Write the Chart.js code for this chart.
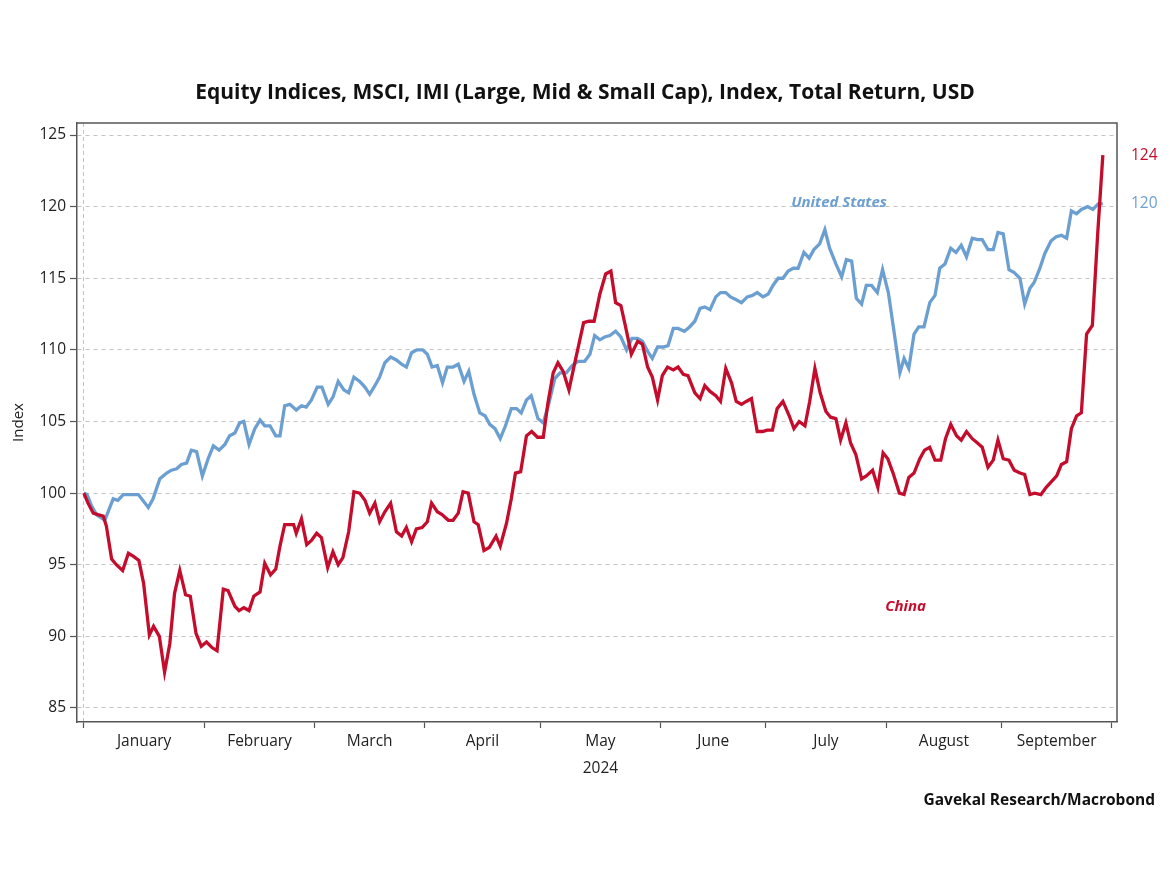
<!DOCTYPE html>
<html>
<head>
<meta charset="utf-8">
<title>Equity Indices, MSCI, IMI</title>
<script src="https://cdn.jsdelivr.net/npm/chart.js@4.4.1/dist/chart.umd.min.js"></script>
<style>
  html, body { margin: 0; padding: 0; background: #fff; }
  #wrap { width: 1170px; height: 870px; }
</style>
</head>
<body>
<div id="wrap"><canvas id="chart" width="1170" height="870"></canvas></div>
<script>
// Month names and number of trading days in each month of 2024 (x axis is in trading days)
const months = ["January", "February", "March", "April", "May", "June", "July", "August", "September"];
const tradingDaysPerMonth = [23, 21, 21, 22, 23, 20, 23, 22, 21];
const yearLabel = "2024";

// United States: trading day index since 1 Jan, index value (1 Jan = 100)
const usDays = [0,0.6,1.5,2.4,4.0,5.6,6.5,7.5,8.5,10.4,
  12.3,13.2,14.5,15.8,16.7,17.7,18.6,19.6,20.5,21.5,
  22.6,23.7,24.7,25.8,26.9,27.8,28.8,29.7,30.5,31.5,
  32.6,33.6,34.5,35.5,36.6,37.4,38.3,39.3,40.5,41.5,
  42.4,43.4,44.5,45.4,46.6,47.5,48.5,49.6,50.5,51.5,
  52.6,53.6,54.5,55.5,56.4,57.4,58.5,59.6,60.6,61.5,
  62.5,63.5,64.6,65.5,66.4,67.4,68.4,69.3,70.4,71.4,
  72.5,73.4,74.4,75.5,76.5,77.4,78.4,79.4,80.4,81.5,
  82.5,83.4,84.4,85.3,86.6,87.6,88.7,89.8,90.8,92.0,
  93.1,94.2,95.5,96.5,97.4,98.4,99.3,100.3,101.4,102.4,
  103.5,104.5,105.6,106.5,107.5,108.4,109.4,110.5,111.4,112.4,
  113.3,114.5,115.5,116.5,117.5,118.4,119.4,120.5,121.4,122.4,
  123.3,124.4,125.4,126.5,127.5,128.4,129.5,130.5,131.4,132.4,
  133.3,134.3,135.3,136.2,137.3,138.3,139.2,140.3,141.3,142.2,
  143.4,144.5,145.4,146.4,147.3,148.3,149.2,150.2,151.3,152.3,
  153.4,154.4,155.6,156.4,157.3,158.3,159.2,160.2,161.3,162.3,
  163.2,164.2,165.3,166.3,167.3,168.3,169.4,170.4,171.3,172.4,
  173.4,174.3,175.3,176.4,177.4,178.5,179.4,180.4,181.2,182.3,
  183.2,184.4,185.4,186.4,187.4,188.3,189.3,190.2,191.4,192.4,
  193.4,194.3];
const usValues = [100,99.9,99.1,98.5,98.1,99.6,99.5,99.9,99.9,99.9,
  99.0,99.6,101.0,101.4,101.6,101.7,102.0,102.1,103.0,102.9,
  101.2,102.4,103.3,103.0,103.4,104.0,104.2,104.9,105.0,103.4,
  104.5,105.1,104.7,104.7,104.0,104.0,106.1,106.2,105.8,106.1,
  106.0,106.5,107.4,107.4,106.2,106.7,107.8,107.2,107.0,108.1,
  107.8,107.4,106.9,107.5,108.1,109.1,109.5,109.3,109.0,108.8,
  109.8,110.0,110.0,109.7,108.8,108.9,107.7,108.8,108.8,109.0,
  107.8,108.5,106.9,105.6,105.4,104.8,104.5,103.8,104.7,105.9,
  105.9,105.6,106.5,106.8,105.2,104.9,106.3,108.0,108.4,108.4,
  108.9,109.2,109.2,109.7,111.0,110.7,110.9,111.0,111.3,110.9,
  110.0,110.8,110.8,110.6,109.9,109.4,110.2,110.2,110.3,111.5,
  111.5,111.3,111.6,112.0,112.9,113.0,112.8,113.7,114.0,114.0,
  113.7,113.5,113.3,113.7,113.8,114.0,113.7,113.9,114.5,115.0,
  115.0,115.5,115.7,115.7,116.8,116.4,117.0,117.4,118.4,117.1,
  116.0,115.1,116.3,116.2,113.6,113.2,114.5,114.5,114.0,115.6,
  114.0,111.5,108.4,109.4,108.7,111.1,111.6,111.6,113.3,113.8,
  115.7,116.0,117.1,116.8,117.3,116.5,117.8,117.7,117.7,117.0,
  117.0,118.2,118.1,115.6,115.4,115.0,113.2,114.3,114.7,115.7,
  116.7,117.6,117.9,118.0,117.8,119.7,119.5,119.8,120.0,119.8,
  120.2,120.2];

// China
const cnDays = [0,0.8,1.8,2.7,3.7,4.3,5.3,6.2,7.4,8.5,
  9.4,10.5,11.4,12.5,13.3,14.4,15.4,16.4,17.3,18.3,
  19.4,20.3,21.4,22.4,23.4,24.5,25.4,26.6,27.5,28.8,
  29.6,30.5,31.5,32.4,33.6,34.5,35.6,36.6,37.4,38.3,
  39.3,40.0,40.5,41.5,42.5,43.4,44.4,45.3,46.5,47.5,
  48.5,49.4,50.5,51.5,52.6,53.6,54.5,55.5,56.4,57.4,
  58.5,59.6,60.6,61.5,62.5,63.4,64.5,65.5,66.3,67.4,
  68.3,69.5,70.4,71.4,72.3,73.3,74.4,75.2,76.3,77.3,
  78.6,79.4,80.6,81.5,82.3,83.3,84.4,85.4,86.5,87.6,
  88.5,89.5,90.4,91.4,92.5,93.5,94.4,95.3,96.3,97.3,
  98.4,99.5,100.5,101.4,102.4,103.3,104.4,105.6,106.5,107.5,
  108.4,109.4,110.3,111.3,112.4,113.3,114.3,115.2,116.5,117.5,
  118.4,119.4,120.5,121.4,122.4,123.5,124.4,125.4,126.3,127.3,
  128.4,129.4,130.3,131.3,132.2,133.3,134.5,135.4,136.4,137.5,
  138.4,139.4,140.4,141.5,142.4,143.4,144.3,145.3,146.2,147.2,
  148.3,149.2,150.4,151.4,152.4,153.3,154.3,155.5,156.4,157.3,
  158.3,159.4,160.3,161.3,162.3,163.4,164.3,165.3,166.4,167.3,
  168.3,169.4,170.4,171.3,172.4,173.4,174.3,175.3,176.4,177.4,
  178.5,179.4,180.4,181.3,182.5,183.5,184.5,185.5,186.4,187.4,
  188.3,189.3,190.2,191.2,192.3,193.3,194.3];
const cnValues = [100,99.3,98.6,98.5,98.4,97.7,95.4,95.0,94.6,95.8,
  95.6,95.3,93.7,90.1,90.7,90.0,87.5,89.5,93.0,94.6,
  92.9,92.8,90.2,89.3,89.6,89.2,89.0,93.3,93.2,92.1,
  91.8,92.0,91.8,92.8,93.1,95.1,94.3,94.7,96.3,97.8,
  97.8,97.8,97.2,98.2,96.4,96.7,97.2,96.9,94.8,95.9,
  95.0,95.5,97.3,100.1,100.0,99.5,98.6,99.3,98.0,98.7,
  99.3,97.3,97.0,97.6,96.6,97.5,97.6,98.0,99.3,98.7,
  98.5,98.1,98.1,98.6,100.1,100.0,98.0,97.8,96.0,96.2,
  97.0,96.3,97.9,99.6,101.4,101.5,104.0,104.3,103.9,103.9,
  106.3,108.4,109.1,108.5,107.2,108.9,110.4,111.9,112.0,112.0,
  113.9,115.3,115.5,113.3,113.1,111.6,109.7,110.6,110.4,108.8,
  108.1,106.5,108.2,108.8,108.6,108.8,108.3,108.2,107.0,106.6,
  107.5,107.1,106.8,106.4,108.7,107.7,106.4,106.2,106.4,106.6,
  104.3,104.3,104.4,104.4,105.9,106.4,105.4,104.5,105.0,104.7,
  106.4,108.7,107.0,105.7,105.3,105.2,103.7,104.9,103.5,102.7,
  101.0,101.2,101.6,100.4,102.8,102.4,101.4,100.0,99.9,101.1,
  101.4,102.4,103.0,103.2,102.3,102.3,103.8,104.8,104.0,103.7,
  104.3,103.8,103.5,103.2,101.8,102.3,103.7,102.4,102.3,101.6,
  101.4,101.3,99.9,100.0,99.9,100.4,100.8,101.2,102.0,102.2,
  104.5,105.4,105.6,111.1,111.7,118.0,123.6];

const yTicks = [85, 90, 95, 100, 105, 110, 115, 120, 125];

const RED = "#c40d2c";
const BLUE = "#6b9fd1";
const AXIS = "#555";
const GRID = "#c4c4c4";
const FONT = "'Open Sans', 'DejaVu Sans', sans-serif";

// Month boundaries and mid points on the trading day axis
const monthStarts = [0];
tradingDaysPerMonth.forEach((n, i) => monthStarts.push(monthStarts[i] + n));
const monthMids = {};
months.forEach((m, i) => { monthMids[(monthStarts[i] + monthStarts[i + 1]) / 2] = m; });

function toPoints(days, values) {
  return days.map((d, i) => ({ x: d, y: values[i] }));
}

// Frame, title, labels next to the lines and the source line
const extras = {
  id: "extras",
  afterDraw(chart) {
    const { ctx, chartArea, scales } = chart;
    const x = scales.x, y = scales.y;
    ctx.save();

    ctx.strokeStyle = AXIS;
    ctx.lineWidth = 1.5;
    ctx.beginPath();
    ctx.moveTo(chartArea.left, chartArea.top);
    ctx.lineTo(chartArea.right, chartArea.top);
    ctx.lineTo(chartArea.right, chartArea.bottom);
    ctx.stroke();

    ctx.fillStyle = "#111";
    ctx.textAlign = "center";
    ctx.textBaseline = "middle";
    ctx.font = "bold 21px " + FONT;
    ctx.fillText("Equity Indices, MSCI, IMI (Large, Mid & Small Cap), Index, Total Return, USD", chart.width / 2, 93);

    ctx.font = "15.5px " + FONT;
    ctx.fillStyle = "#222";
    ctx.fillText(yearLabel, x.getPixelForValue(98.5), 769);

    ctx.font = "bold 15.5px " + FONT;
    ctx.textAlign = "right";
    ctx.fillStyle = "#111";
    ctx.fillText("Gavekal Research/Macrobond", 1155, 801);

    ctx.font = "italic bold 15px " + FONT;
    ctx.textAlign = "center";
    ctx.fillStyle = BLUE;
    ctx.fillText("United States", x.getPixelForValue(144), y.getPixelForValue(120.3));
    ctx.fillStyle = RED;
    ctx.fillText("China", x.getPixelForValue(156.7), y.getPixelForValue(92.1));

    // last values to the right of the frame
    ctx.font = "15.5px " + FONT;
    ctx.textAlign = "left";
    chart.data.datasets.forEach((ds) => {
      const last = ds.data[ds.data.length - 1].y;
      ctx.fillStyle = ds.borderColor;
      ctx.fillText(Math.round(last), chartArea.right + 14, y.getPixelForValue(last));
    });

    ctx.restore();
  }
};

const chart = new Chart(document.getElementById("chart").getContext("2d"), {
  type: "line",
  data: {
    datasets: [
      {
        label: "China",
        data: toPoints(cnDays, cnValues),
        borderColor: RED,
        borderWidth: 3.3,
        pointRadius: 0,
        tension: 0
      },
      {
        label: "United States",
        data: toPoints(usDays, usValues),
        borderColor: BLUE,
        borderWidth: 3.3,
        pointRadius: 0,
        tension: 0
      }
    ]
  },
  options: {
    responsive: false,
    animation: false,
    layout: { padding: { top: 123, right: 53, left: 0, bottom: 0 } },
    plugins: {
      legend: { display: false },
      tooltip: { enabled: false },
      title: { display: false }
    },
    scales: {
      x: {
        type: "linear",
        min: -1.3,
        max: 197,
        afterFit: (scale) => { scale.height = 148; },
        afterBuildTicks: (scale) => {
          const vals = monthStarts.concat(Object.keys(monthMids).map(Number)).sort((a, b) => a - b);
          scale.ticks = vals.map((v) => ({ value: v }));
        },
        ticks: {
          autoSkip: false,
          maxRotation: 0,
          padding: 4,
          color: "#222",
          font: { family: FONT, size: 15.5 },
          callback: (v) => monthMids[v] || ""
        },
        grid: {
          color: (c) => (c.tick && c.tick.value === 0 ? GRID : "transparent"),
          lineWidth: 1,
          tickLength: 6,
          tickWidth: 1.2,
          tickColor: (c) => (c.tick && monthStarts.includes(c.tick.value) ? AXIS : "transparent"),
          tickBorderDash: []
        },
        border: { display: true, color: AXIS, width: 1.5, dash: [4, 3] }
      },
      y: {
        min: 84.02,
        max: 125.84,
        afterFit: (scale) => { scale.width = 77; },
        afterBuildTicks: (scale) => {
          scale.ticks = yTicks.map((v) => ({ value: v }));
        },
        ticks: {
          padding: 4,
          color: "#222",
          font: { family: FONT, size: 15.5 }
        },
        grid: {
          color: GRID,
          lineWidth: 1,
          tickLength: 7,
          tickWidth: 1.2,
          tickColor: AXIS,
          tickBorderDash: []
        },
        border: { display: true, color: AXIS, width: 1.5, dash: [4, 4] },
        title: {
          display: true,
          text: "Index",
          color: "#222",
          font: { family: FONT, size: 15 },
          padding: { top: 10, bottom: 0 }
        }
      }
    }
  },
  plugins: [extras]
});
</script>
</body>
</html>
